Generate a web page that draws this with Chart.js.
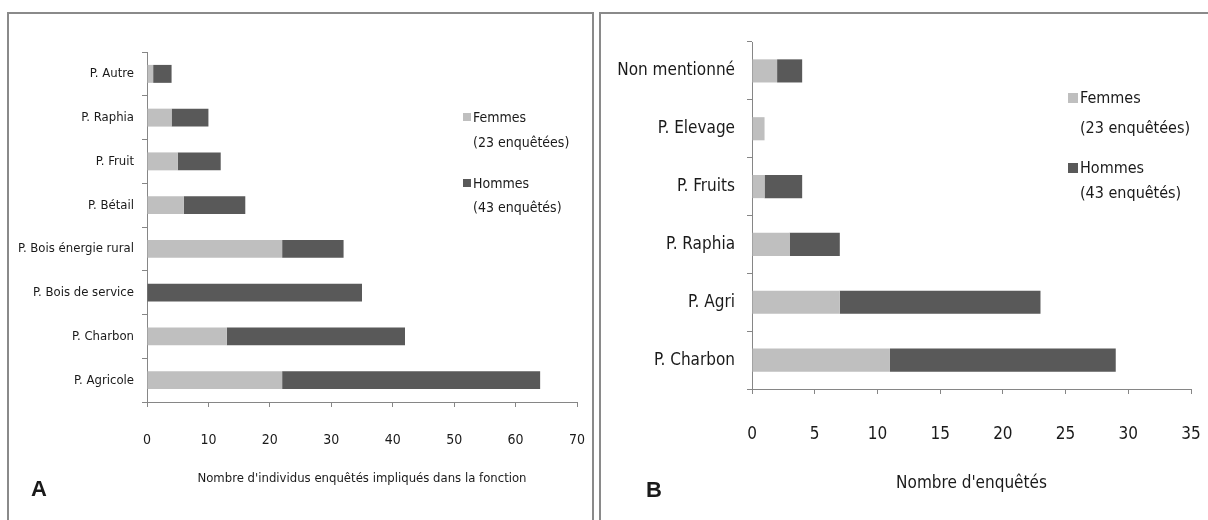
<!DOCTYPE html>
<html>
<head>
<meta charset="utf-8">
<script src="https://cdn.jsdelivr.net/npm/chart.js@4"></script>
<style>
  body { margin: 0; width: 1208px; height: 520px; position: relative; overflow: hidden; background: #fff;
         font-family: "Liberation Sans Narrow", "Arial Narrow", "DejaVu Sans Condensed", sans-serif; color: #1a1a1a; }
  .box { position: absolute; border: 2px solid #8a8a8a; }
  #boxA { left: 7px; top: 12px; width: 583px; height: 540px; }
  #boxB { left: 599px; top: 12px; width: 640px; height: 540px; }
  canvas { position: absolute; top: 0; }
  .legend { position: absolute; white-space: nowrap; }
  .legend div { position: absolute; left: 0; line-height: 1; transform: translateY(-50%); }
  .legend span.sw { position: absolute; }
  .letter { position: absolute; font-family: "Liberation Sans", Arial, sans-serif; font-weight: bold; font-size: 22px; transform: translate(-50%, -50%); }
</style>
</head>
<body>
<div class="box" id="boxA"></div>
<div class="box" id="boxB"></div>
<div style="position:absolute;left:0;top:0;width:598px;height:520px"><canvas id="chartA"></canvas></div>
<div style="position:absolute;left:600px;top:0;width:608px;height:520px"><canvas id="chartB"></canvas></div>
<div class="letter" style="left:39px;top:489px">A</div>
<div class="letter" style="left:654px;top:490px">B</div>
<div class="legend" id="legA"></div>
<div class="legend" id="legB"></div>

<script>
// panel A
const catsA = ['P. Autre', 'P. Raphia', 'P. Fruit', 'P. Bétail', 'P. Bois énergie rural', 'P. Bois de service', 'P. Charbon', 'P. Agricole'];
const femmesA = [1, 4, 5, 6, 22, 0, 13, 22];
const hommesA = [3, 6, 7, 10, 10, 35, 29, 42];

// panel B
const catsB = ['Non mentionné', 'P. Elevage', 'P. Fruits', 'P. Raphia', 'P. Agri', 'P. Charbon'];
const femmesB = [2, 1, 1, 3, 7, 11];
const hommesB = [2, 0, 3, 4, 16, 18];

const seriesNames = ['Femmes', 'Hommes'];
const seriesNotes = ['(23 enquêtées)', '(43 enquêtés)'];
const seriesColors = ['#bfbfbf', '#595959'];

const FONT = '"Liberation Sans Narrow", "Arial Narrow", "DejaVu Sans Condensed", sans-serif';
const GREY = '#868686';

function makeChart(id, cats, fem, hom, cfg) {
    return new Chart(document.getElementById(id), {
        type: 'bar',
        data: {
            labels: cats,
            datasets: [fem, hom].map((d, i) => ({
                label: seriesNames[i],
                data: d,
                backgroundColor: seriesColors[i],
                borderWidth: 0,
                categoryPercentage: 1,
                barPercentage: cfg.barPct
            }))
        },
        options: {
            indexAxis: 'y',
            responsive: true,
            maintainAspectRatio: false,
            animation: false,
            layout: { padding: cfg.padding },
            plugins: { legend: { display: false }, tooltip: { enabled: false } },
            scales: {
                x: {
                    stacked: true,
                    min: 0, max: cfg.max,
                    afterFit: s => { s.height = cfg.xHeight; },
                    // tall line height pushes the tick labels down without widening the side padding
                    ticks: { stepSize: cfg.step, padding: 2, color: '#1a1a1a',
                             font: { family: FONT, size: cfg.tickSize, lineHeight: cfg.tickLH } },
                    grid: { drawOnChartArea: false, tickLength: 5, color: GREY },
                    border: { color: GREY, width: 1 },
                    title: { display: true, text: cfg.title, color: '#1a1a1a', padding: { top: 0, bottom: cfg.titlePad },
                             font: { family: FONT, size: cfg.titleSize } }
                },
                y: {
                    stacked: true,
                    afterFit: s => { s.width = cfg.yWidth; },
                    ticks: { padding: cfg.yTickPad, color: '#1a1a1a', font: { family: FONT, size: cfg.labelSize } },
                    grid: { drawOnChartArea: false, offset: true, tickLength: 5, color: GREY },
                    border: { color: GREY, width: 1 }
                }
            }
        }
    });
}

makeChart('chartA', catsA, femmesA, hommesA, {
    barPct: 0.41, max: 70, step: 10,
    padding: { left: 10, right: 21, top: 52, bottom: 30 },
    xHeight: 88, tickSize: 14, tickLH: 62 / 14,
    title: "Nombre d'individus enquêtés impliqués dans la fonction", titleSize: 13, titlePad: 4,
    yWidth: 137, yTickPad: 8, labelSize: 13
});

makeChart('chartB', catsB, femmesB, hommesB, {
    barPct: 0.4, max: 35, step: 5,
    padding: { left: 10, right: 17, top: 42, bottom: 25 },
    xHeight: 106, tickSize: 17, tickLH: 78 / 17,
    title: "Nombre d'enquêtés", titleSize: 17, titlePad: 1,
    yWidth: 142, yTickPad: 12, labelSize: 17
});

// legends
function makeLegend(id, x, ys, sw, size) {
    const el = document.getElementById(id);
    el.style.left = x + 'px';
    el.style.top = '0px';
    el.style.fontSize = size + 'px';
    let html = '';
    seriesNames.forEach((name, i) => {
        html += `<div style="top:${ys[i * 2]}px"><span class="sw" style="left:0;top:50%;margin-top:${-sw / 2}px;width:${sw}px;height:${sw}px;background:${seriesColors[i]}"></span><span style="padding-left:${sw + 2}px">${name}</span></div>`;
        html += `<div style="top:${ys[i * 2 + 1]}px"><span style="padding-left:${sw + 2}px">${seriesNotes[i]}</span></div>`;
    });
    el.innerHTML = html;
}
makeLegend('legA', 463, [117, 142, 183, 207], 8, 14);
makeLegend('legB', 1068, [98, 128, 168, 193], 10, 16);
</script>
</body>
</html>
